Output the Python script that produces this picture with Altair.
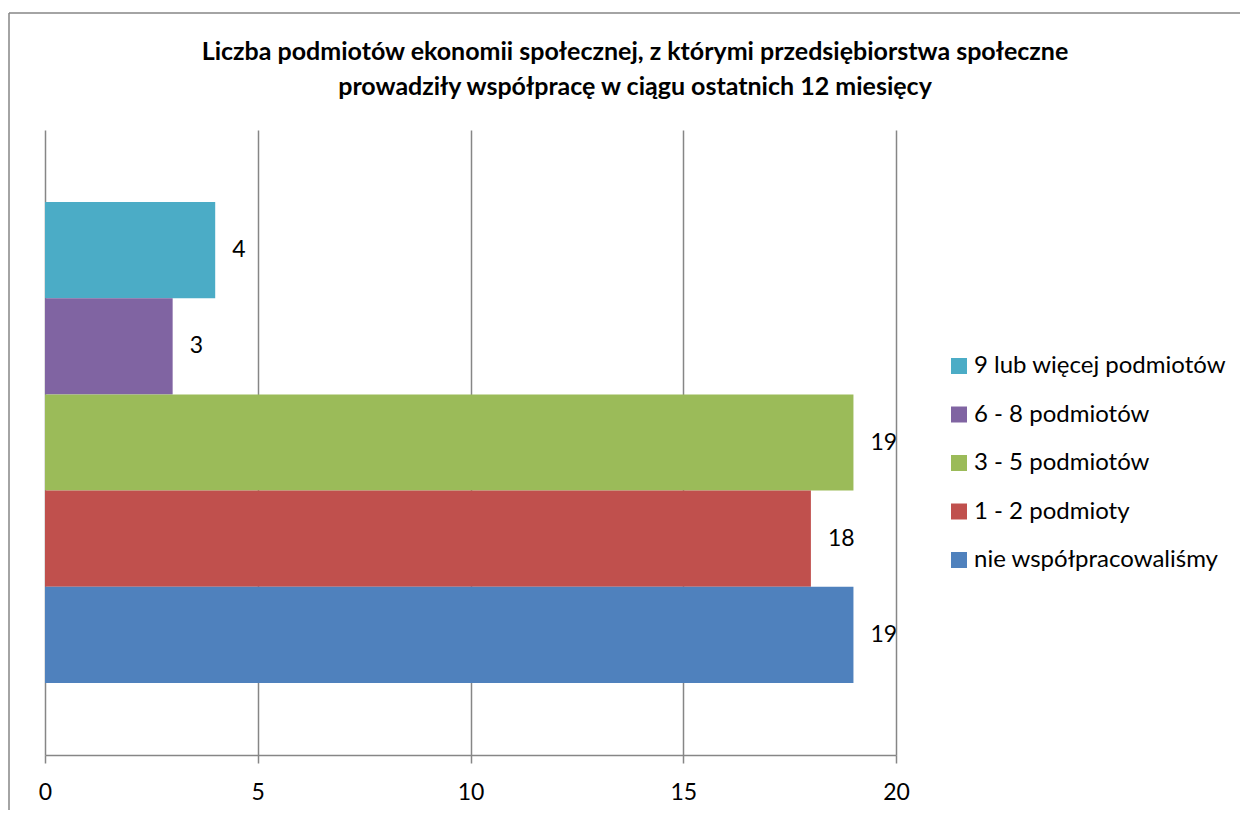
import altair as alt
import pandas as pd

categories = ["9 lub więcej podmiotów", "6 - 8 podmiotów", "3 - 5 podmiotów",
              "1 - 2 podmioty", "nie współpracowaliśmy"]
values = [4, 3, 19, 18, 19]
colors = ["#4BACC6", "#8064A2", "#9BBB59", "#C0504D", "#4F81BD"]
x_ticks = [0, 5, 10, 15, 20]
title_lines = ["Liczba podmiotów ekonomii społecznej, z którymi przedsiębiorstwa społeczne",
               "prowadziły współpracę w ciągu ostatnich 12 miesięcy"]

df = pd.DataFrame({"cat": categories, "val": values})

FONT = "Lato"
W, H = 851, 625

y_enc = alt.Y("cat:N", sort=categories, axis=None,
              scale=alt.Scale(domain=categories, paddingInner=0, paddingOuter=0.748))
x_enc = alt.X("val:Q", scale=alt.Scale(domain=[0, 20], nice=False),
              axis=alt.Axis(values=x_ticks, title=None, grid=True, gridColor="#868686",
                            gridWidth=1.5, domainColor="#868686", domainWidth=1.5,
                            tickColor="#868686", tickWidth=1.5, tickSize=8,
                            labelFontSize=23, labelFont=FONT, labelColor="#000000",
                            labelPadding=18, labelFlush=False, format="d"))

bars = alt.Chart(df).mark_bar(opacity=1).encode(
    x=x_enc,
    y=y_enc,
    color=alt.Color("cat:N", sort=categories,
                    scale=alt.Scale(domain=categories, range=colors),
                    legend=alt.Legend(title=None, orient="none", legendX=902, legendY=224,
                                      symbolType="square", symbolSize=256,
                                      symbolStrokeWidth=0, labelFontSize=24,
                                      labelFont=FONT, labelColor="#000000",
                                      rowPadding=24.5, labelOffset=3, labelLimit=400)),
)

labels = alt.Chart(df).mark_text(align="left", baseline="middle", dx=17, fontSize=23,
                                 font=FONT, color="#000000").encode(
    x="val:Q", y=alt.Y("cat:N", sort=categories), text="val:Q")

title = alt.Chart(df.head(1)).mark_text(align="center", baseline="middle", fontSize=25,
                                        font=FONT, fontWeight="bold", color="#000000",
                                        lineHeight=35).encode(
    x=alt.value(590), y=alt.value(-78), text=alt.value(title_lines))

frame_top = alt.Chart(df.head(1)).mark_rule(color="#868686", strokeWidth=1.5).encode(
    x=alt.value(-36), x2=alt.value(1300), y=alt.value(-117))
frame_left = alt.Chart(df.head(1)).mark_rule(color="#868686", strokeWidth=1.5).encode(
    x=alt.value(-36), y=alt.value(-117), y2=alt.value(800))

chart = alt.layer(bars, labels, title, frame_top, frame_left).properties(
    width=W, height=H,
    padding={"left": 37, "top": 122, "right": 344, "bottom": 55},
    autosize=alt.AutoSizeParams(type="none"),
).configure_view(stroke=None)

chart.save("out.html", embed_options={"renderer": "svg", "actions": False})
